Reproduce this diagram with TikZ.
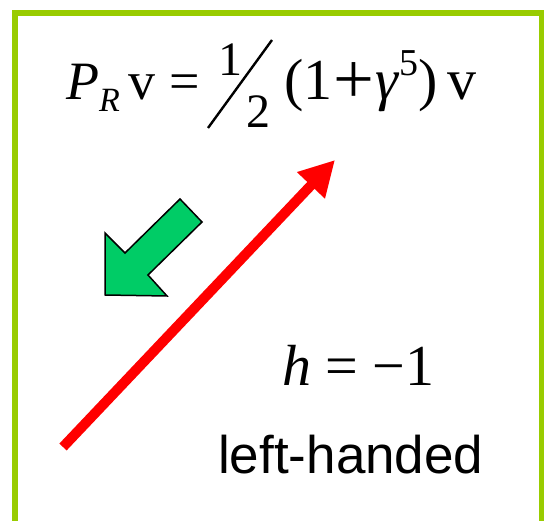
\documentclass[tikz,border=0pt]{standalone}
\usepackage{fontspec}
\usepackage{graphicx}
\setsansfont{Liberation Sans}
\newfontfamily\tms{Liberation Serif}
\usetikzlibrary{arrows.meta}
\definecolor{framegreen}{RGB}{153,204,0}
\definecolor{arrowgreen}{RGB}{0,204,102}
\definecolor{myred}{RGB}{255,0,0}
\newcommand{\bigop}[1]{\raisebox{-0.06em}{\scalebox{1.25}{#1}}}
\tikzset{
  eq/.style={inner sep=0pt, anchor=base west, font=\tms\fontsize{54}{60}\selectfont},
  lbl/.style={inner sep=0pt, anchor=base west, font=\sffamily\fontsize{53}{60}\selectfont},
  frame/.style={draw=framegreen, line width=6pt},
  redarrow/.style={-{Triangle[length=35pt, width=36pt]}, line width=10pt, color=myred},
  greenarrow/.style={draw=black, fill=arrowgreen, line width=1.5pt, line join=miter},
  slash/.style={line width=2.4pt}
}

\begin{document}
\begin{tikzpicture}[x=1pt, y=-1pt]
  \useasboundingbox (0,0) rectangle (544,521);

  % Frame
  \draw[frame] (15,521) |- (542,13) -- (542,521);

  % Formula
  \node[eq] (lhs) at (66,100) {\textit{P}\raisebox{-0.22em}{\fontsize{34}{34}\selectfont\textit{R}}\,v =};
  \node[eq, font=\tms\fontsize{48}{50}\selectfont] (num) at (218,76) {1};
  \node[eq, font=\tms\fontsize{48}{50}\selectfont] (den) at (246,128) {2};
  \coordinate (slashlo) at (208,128);
  \coordinate (slashhi) at (272,40);
  \draw[slash] (slashlo) -- (slashhi);
  \node[eq, font=\tms\fontsize{58}{60}\selectfont] (rhs) at (284,100)
    {(1\kern1pt\bigop{+}\kern1pt\textit{γ}\raisebox{0.42em}{\fontsize{38}{40}\selectfont 5})\,v};

  % Arrows
  \coordinate (tail) at (63,447);
  \coordinate (tip) at (335,160);
  \draw[redarrow] (tail) -- (tip);
  \draw[greenarrow] (105,295) -- (105,233) -- (125,253) -- (180,199)
    -- (202,222) -- (148,275) -- (167,296) -- cycle;

  % Helicity
  \node[eq, font=\tms\fontsize{58}{60}\selectfont] (hel) at (282,386) {\textit{h} = −1};
  \node[lbl] (hand) at (218,473) {left-handed};
\end{tikzpicture}
\end{document}
